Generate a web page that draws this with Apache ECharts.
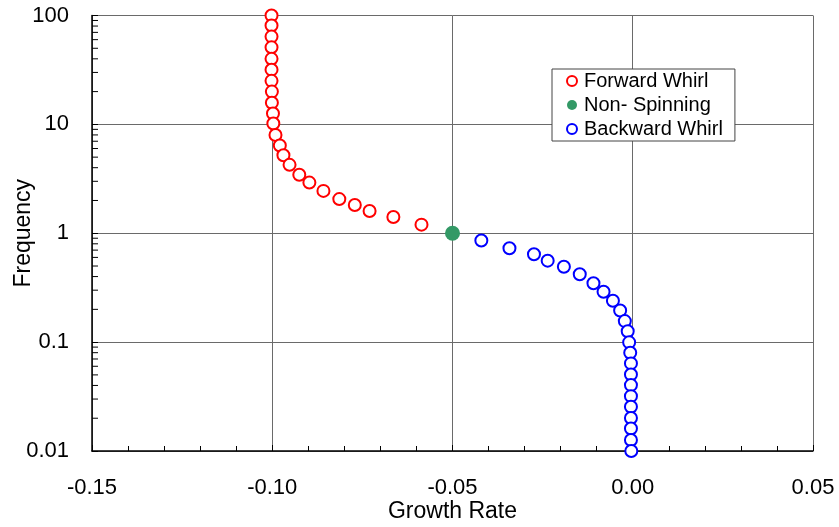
<!DOCTYPE html>
<html>
<head>
<meta charset="utf-8">
<script src="https://cdn.jsdelivr.net/npm/echarts@6/dist/echarts.min.js"></script>
<style>
  html, body { margin: 0; padding: 0; background: #fff; }
  #chart { width: 839px; height: 527px; }
</style>
</head>
<body>
<div id="chart"></div>
<script>
// Forward whirl (red open circles), top to bottom
var forwardFreq = [100, 81, 64, 51, 40, 31.8, 25.1, 20, 15.8, 12.6, 10.2, 8.0, 6.4, 5.2, 4.25, 3.45, 2.92, 2.45, 2.06, 1.82, 1.60, 1.41, 1.20];
var forwardRate = [-0.1002, -0.1002, -0.1002, -0.1002, -0.1002, -0.1002, -0.1002, -0.1001, -0.1001, -0.0998, -0.0997, -0.0991, -0.0979, -0.0969, -0.0952, -0.0925, -0.0897, -0.0858, -0.0814, -0.0771, -0.0730, -0.0664, -0.0586];

// Non-spinning point
var nonSpinFreq = [1];
var nonSpinRate = [-0.05];

// Backward whirl (blue open circles), top to bottom
var backwardFreq = [0.859, 0.728, 0.641, 0.560, 0.493, 0.420, 0.347, 0.290, 0.240, 0.195, 0.156, 0.126, 0.0995, 0.0798, 0.0638, 0.0505, 0.0403, 0.0319, 0.0255, 0.0201, 0.0161, 0.0126, 0.0100];
var backwardRate = [-0.0420, -0.0342, -0.0274, -0.0236, -0.0191, -0.0147, -0.0109, -0.0081, -0.0055, -0.0035, -0.0022, -0.0014, -0.0010, -0.0007, -0.0005, -0.0005, -0.0005, -0.0005, -0.0005, -0.0005, -0.0005, -0.0005, -0.0004];

var xTicks = [-0.15, -0.10, -0.05, 0.00, 0.05];
var yTicks = [0.01, 0.1, 1, 10, 100];

// minor log ticks 2..9 in every decade
var yMinor = [];
for (var d = 0; d < yTicks.length - 1; d++) {
  for (var m = 2; m <= 9; m++) {
    yMinor.push([xTicks[0], yTicks[d] * m]);
  }
}

function pairs(xs, ys) {
  return xs.map(function (x, i) { return [x, ys[i]]; });
}

var FONT = 'Liberation Sans, Arial, sans-serif';

var chart = echarts.init(document.getElementById('chart'), null, { renderer: 'canvas' });

var option = {
  backgroundColor: '#fff',
  animation: false,
  grid: { left: 92, right: 26, top: 15.5, bottom: 76, containLabel: false, outerBoundsMode: 'none' },
  legend: {
    orient: 'vertical',
    left: 552,
    top: 69,
    padding: [2, 12, 2, 14],
    itemGap: 4,
    itemWidth: 14,
    itemHeight: 10,
    symbolKeepAspect: true,
    backgroundColor: '#fff',
    borderColor: '#444',
    borderWidth: 1,
    borderRadius: 0,
    textStyle: { fontFamily: FONT, fontSize: 20, color: '#000' },
    data: [
      { name: 'Forward Whirl', icon: 'circle', itemStyle: { color: '#fff', borderColor: '#ff0000', borderWidth: 2 } },
      { name: 'Non- Spinning', icon: 'circle', itemStyle: { color: '#339966', borderWidth: 0 } },
      { name: 'Backward Whirl', icon: 'circle', itemStyle: { color: '#fff', borderColor: '#0000ff', borderWidth: 2 } }
    ]
  },
  xAxis: {
    type: 'value',
    min: xTicks[0],
    max: xTicks[xTicks.length - 1],
    interval: 0.05,
    name: 'Growth Rate',
    nameLocation: 'middle',
    nameGap: 49,
    nameMoveOverlap: false,
    nameTextStyle: { fontFamily: FONT, fontSize: 23, color: '#000' },
    axisLine: { onZero: false, lineStyle: { color: '#000', width: 1.5 } },
    axisTick: { inside: true, length: 6, lineStyle: { color: '#000' } },
    minorTick: { show: true, splitNumber: 5, length: 5, lineStyle: { color: '#000' } },
    axisLabel: {
      margin: 26,
      fontFamily: FONT, fontSize: 22, color: '#000',
      formatter: function (v) { return v.toFixed(2); }
    },
    splitLine: { show: true, lineStyle: { color: '#6a6a6a', width: 1 } }
  },
  yAxis: {
    type: 'log',
    logBase: 10,
    min: yTicks[0],
    max: yTicks[yTicks.length - 1],
    name: 'Frequency',
    nameLocation: 'middle',
    nameGap: 57,
    nameMoveOverlap: false,
    nameTextStyle: { fontFamily: FONT, fontSize: 23, color: '#000' },
    axisLine: { show: true, onZero: false, lineStyle: { color: '#000', width: 1.5 } },
    axisTick: { show: true, inside: true, length: 6, lineStyle: { color: '#000' } },
    axisLabel: {
      margin: 23,
      fontFamily: FONT, fontSize: 22, color: '#000',
      formatter: function (v) { return String(v); }
    },
    splitLine: { show: true, lineStyle: { color: '#6a6a6a', width: 1 } }
  },
  series: [
    {
      name: 'Forward Whirl',
      type: 'scatter',
      symbol: 'circle',
      symbolSize: 12,
      clip: false,
      z: 4,
      itemStyle: { color: '#fff', borderColor: '#ff0000', borderWidth: 2, opacity: 1 },
      data: pairs(forwardRate, forwardFreq)
    },
    {
      name: 'Non- Spinning',
      type: 'scatter',
      symbol: 'circle',
      symbolSize: 15,
      clip: false,
      z: 5,
      itemStyle: { color: '#339966', opacity: 1 },
      data: pairs(nonSpinRate, nonSpinFreq)
    },
    {
      name: 'Backward Whirl',
      type: 'scatter',
      symbol: 'circle',
      symbolSize: 12,
      clip: false,
      z: 4,
      itemStyle: { color: '#fff', borderColor: '#0000ff', borderWidth: 2, opacity: 1 },
      data: pairs(backwardRate, backwardFreq)
    },
    {
      // minor ticks on the log axis
      type: 'custom',
      silent: true,
      clip: false,
      z: 3,
      data: yMinor,
      renderItem: function (params, api) {
        var p = api.coord([api.value(0), api.value(1)]);
        return {
          type: 'line',
          shape: { x1: p[0], y1: p[1], x2: p[0] + 6, y2: p[1] },
          style: { stroke: '#000', lineWidth: 1 }
        };
      }
    }
  ]
};

chart.setOption(option);
</script>
</body>
</html>
